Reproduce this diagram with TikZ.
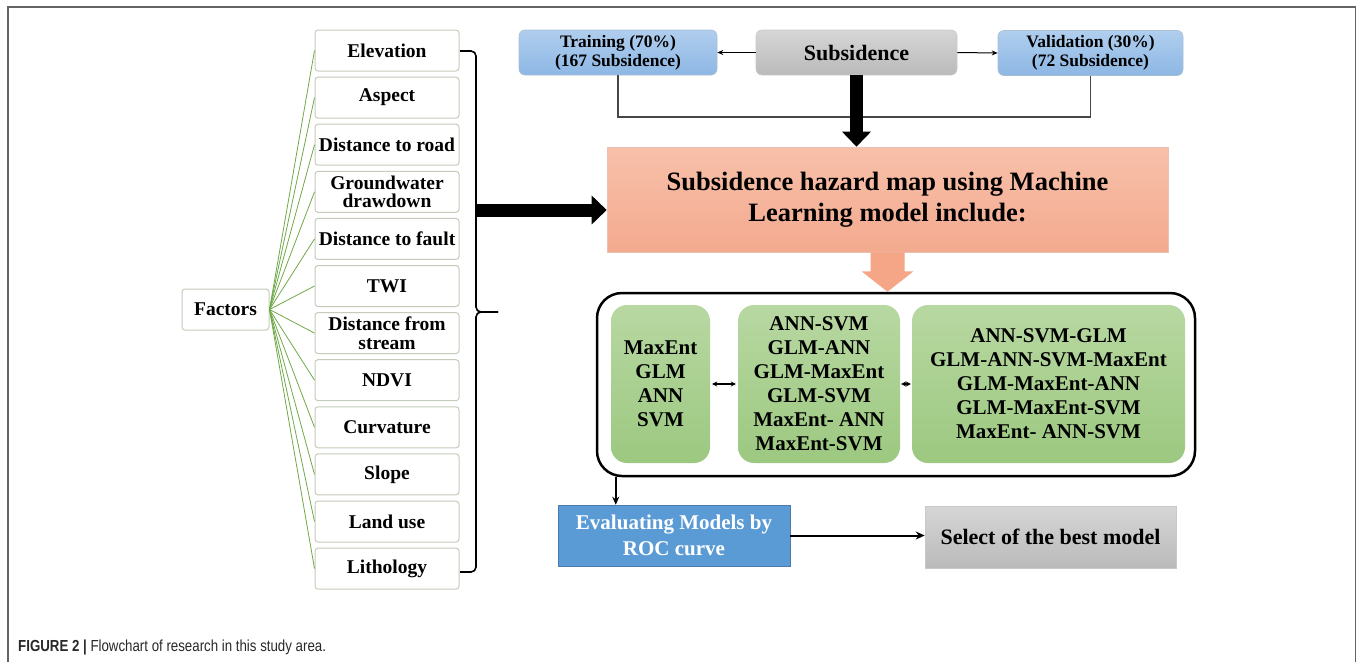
\documentclass[tikz,border=0pt]{standalone}
\usepackage{fontspec}
\setmainfont{Liberation Serif}
\newfontfamily\capfont[FakeStretch=0.83]{Liberation Sans}
\usetikzlibrary{arrows.meta,calc,positioning}

\definecolor{linkgreen}{RGB}{112,168,72}
\definecolor{boxedge}{RGB}{196,204,186}
\definecolor{framegray}{RGB}{100,100,100}
\definecolor{bluetop}{RGB}{176,206,238}
\definecolor{bluebot}{RGB}{141,183,228}
\definecolor{graytop}{RGB}{214,214,214}
\definecolor{graybot}{RGB}{186,186,186}
\definecolor{salmontop}{RGB}{248,192,170}
\definecolor{salmonbot}{RGB}{243,170,142}
\definecolor{arrowor}{RGB}{244,166,134}
\definecolor{greentop}{RGB}{184,216,162}
\definecolor{greenbot}{RGB}{156,200,128}
\definecolor{evalblue}{RGB}{91,155,213}
\definecolor{captext}{RGB}{40,40,40}

\tikzset{
  factor/.style={draw=boxedge, line width=1pt, rounded corners=3pt, fill=white,
    minimum width=144pt, minimum height=41pt, inner sep=0pt, align=center,
    font=\bfseries\fontsize{19.5}{18.5}\selectfont},
  topbox/.style={rounded corners=6pt, draw=bluebot!80!black!60, line width=0.6pt,
    top color=bluetop, bottom color=bluebot, minimum height=45pt, inner sep=0pt,
    align=center, font=\bfseries\fontsize{17.5}{19}\selectfont},
  graybox/.style={draw=graybot!80, line width=0.6pt, top color=graytop, bottom color=graybot,
    inner sep=0pt, align=center},
  modelbox/.style={rounded corners=16pt, top color=greentop, bottom color=greenbot,
    minimum height=158pt, inner sep=0pt, align=center,
    font=\bfseries\fontsize{21}{24}\selectfont},
  thinarrow/.style={line width=1pt, -{Stealth[length=6pt,width=5pt]}},
  fatarrow/.style={line width=13pt, -{Triangle[length=15pt,width=28pt]}},
  dblarrow/.style={line width=1.4pt, {Stealth[length=5pt,width=5pt]}-{Stealth[length=5pt,width=5pt]}},
}

\begin{document}
\begin{tikzpicture}[x=1pt,y=-1pt]
\useasboundingbox (0,0) rectangle (1357,662);
\draw[framegray, line width=1.5pt] (8,662) -- (8,7) -- (1355.5,7) -- (1355.5,662);

% factors
\node[factor, minimum width=87pt] (fac) at (225.5,309.5) {Factors};
\foreach \lbl [count=\i] in {Elevation, Aspect, Distance to road, {Groundwater\\drawdown},
    Distance to fault, TWI, {Distance from\\stream}, NDVI, Curvature, Slope, Land use, Lithology}{
  \node[factor] (f\i) at (387,{50.5+47.1*(\i-1)}) {\lbl};
  \draw[linkgreen, line width=0.8pt] (fac.east) -- (f\i.west);
}

% brace
\coordinate (brtip) at (498,312);
\draw[line width=1.6pt, rounded corners=5pt] (460,51) -- (476,51) -- (476,312) -- (brtip);
\draw[line width=1.6pt, rounded corners=5pt] (460,572) -- (476,572) -- (476,312) -- (brtip);
\coordinate (brl) at (475,210);

% subsidence split
\node[topbox, minimum width=198pt] (tr) at (618,52.5) {Training (70\%)\\(167 Subsidence)};
\node[graybox, rounded corners=6pt, minimum width=201pt, minimum height=45pt,
  font=\bfseries\fontsize{22}{24}\selectfont] (sub) at (856.5,52.5) {Subsidence};
\node[topbox, minimum width=185pt] (va) at (1090.5,53) {Validation (30\%)\\(72 Subsidence)};
\draw[thinarrow] (sub.west) -- (tr.east);
\draw[thinarrow] (sub.east) -- (va.west);
\coordinate (jn) at (857,117);
\draw[framegray!70!black, line width=1.3pt] (tr.south) |- (jn) -| (va.south);

% hazard map
\node[draw=salmonbot!90!black!60, line width=0.6pt, top color=salmontop, bottom color=salmonbot,
  minimum width=561pt, minimum height=105pt, inner sep=0pt, align=center,
  font=\bfseries\fontsize{26.5}{31}\selectfont] (hz) at (887.5,199.5)
  {Subsidence hazard map using Machine\\Learning model include:};
\draw[fatarrow] (sub.south) -- (sub.south |- hz.north);
\draw[fatarrow] (brl) -- (brl -| hz.west);

% models
\node[draw, line width=2.5pt, rounded corners=25pt, minimum width=598pt, minimum height=183pt] (frm) at (896,384.5) {};
\fill[arrowor] ($(hz.south)+(-17,0)$) -- ++(34,0) -- ++(0,19) -- ++(9,0)
  -- (hz.south |- frm.north) -- ($(hz.south)+(-26,19)$) -- ++(9,0) -- cycle;
\node[modelbox, minimum width=99pt] (g1) at (660.5,384) {MaxEnt\\GLM\\ANN\\SVM};
\node[modelbox, minimum width=162pt] (g2) at (819,384) {ANN-SVM\\GLM-ANN\\GLM-MaxEnt\\GLM-SVM\\MaxEnt- ANN\\MaxEnt-SVM};
\node[modelbox, minimum width=273pt] (g3) at (1048.5,384) {ANN-SVM-GLM\\GLM-ANN-SVM-MaxEnt\\GLM-MaxEnt-ANN\\GLM-MaxEnt-SVM\\MaxEnt- ANN-SVM};
\draw[dblarrow, shorten <=2pt, shorten >=2pt] (g1.east) -- (g2.west);
\draw[dblarrow, shorten <=1pt, shorten >=1pt] (g2.east) -- (g3.west);

% evaluation
\node[fill=evalblue, draw=evalblue!80!black, line width=0.6pt, minimum width=232pt, minimum height=61pt,
  inner sep=0pt, align=center, text=white, font=\bfseries\fontsize{21}{26}\selectfont] (ev) at (674,535.5)
  {Evaluating Models by\\ROC curve};
\node[graybox, minimum width=251pt, minimum height=62pt,
  font=\bfseries\fontsize{22}{24}\selectfont] (sel) at (1050.5,537) {Select of the best model};
\draw[line width=1.6pt, -{Stealth[length=8pt,width=7pt]}] ([xshift=20pt]frm.south west) -- ([xshift=20pt]frm.south west |- ev.north);
\draw[line width=2pt, -{Stealth[length=9pt,width=8pt]}] (ev.east) -- (ev.east -| sel.west);

% caption
\node[anchor=base west, inner sep=0pt, text=captext, font=\capfont\fontsize{16}{18}\selectfont] (cap) at (18,651)
  {\textbf{FIGURE 2} \textbf{|} Flowchart of research in this study area.};
\end{tikzpicture}
\end{document}
